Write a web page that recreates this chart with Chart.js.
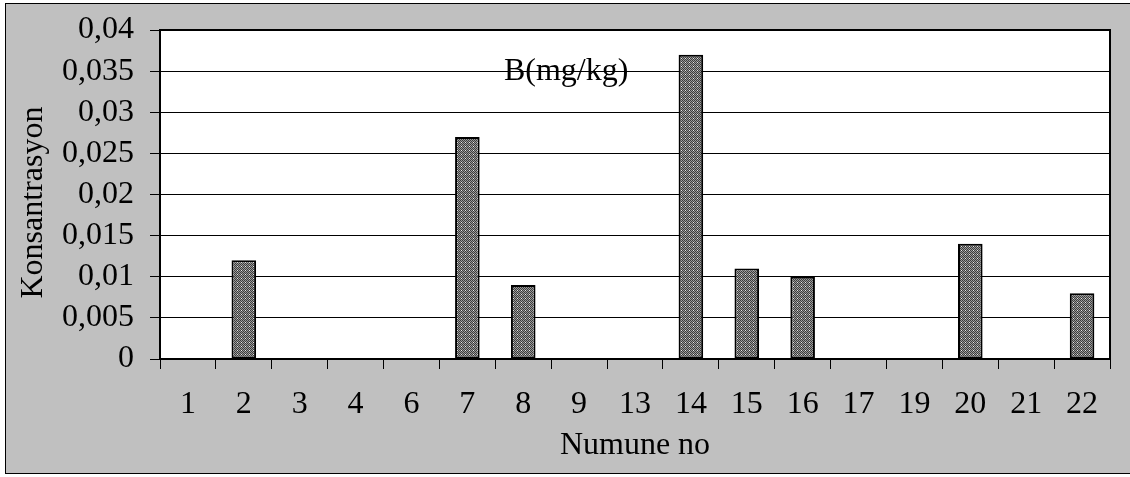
<!DOCTYPE html>
<html>
<head>
<meta charset="utf-8">
<script src="https://cdn.jsdelivr.net/npm/chart.js@4/dist/chart.umd.min.js"></script>
<style>
  html, body { margin: 0; padding: 0; background: #ffffff; }
  #wrap { width: 1130px; height: 477px; }
</style>
</head>
<body>
<div id="wrap"><canvas id="c" width="1130" height="477"></canvas></div>
<script>
// Sample numbers along the x axis
const sampleNos = ['1', '2', '3', '4', '6', '7', '8', '9', '13', '14', '15', '16', '17', '19', '20', '21', '22'];
// Boron concentration per sample (mg/kg)
const boron = [0, 0.012, 0, 0, 0, 0.027, 0.009, 0, 0, 0.037, 0.011, 0.010, 0, 0, 0.014, 0, 0.008];
// Y axis range and step
const yMin = 0, yMax = 0.04, yStep = 0.005;

const FONT = '"Liberation Serif", "Times New Roman", serif';

// Fine checkered fill used for the bars
function makeHatch() {
  const p = document.createElement('canvas');
  p.width = 4; p.height = 4;
  const g = p.getContext('2d');
  g.fillStyle = '#9a9a9a'; g.fillRect(0, 0, 4, 4);
  g.fillStyle = '#3c3c3c';
  g.fillRect(0, 0, 1, 1); g.fillRect(2, 0, 1, 1);
  g.fillRect(1, 1, 1, 1); g.fillRect(3, 1, 1, 1);
  g.fillRect(0, 2, 1, 1); g.fillRect(2, 2, 1, 1);
  g.fillRect(1, 3, 1, 1); g.fillRect(3, 3, 1, 1);
  g.fillStyle = '#e6e6e6';
  g.fillRect(1, 2, 1, 1);
  return g.createPattern(p, 'repeat');
}

const frame = {
  id: 'frame',
  beforeDraw(chart) {
    const { ctx, chartArea: a } = chart;
    ctx.save();
    ctx.fillStyle = '#ffffff';
    ctx.fillRect(0, 0, chart.width, chart.height);
    ctx.fillStyle = '#c0c0c0';
    ctx.fillRect(5, 3, chart.width, 471);
    ctx.strokeStyle = '#000000';
    ctx.lineWidth = 1;
    ctx.strokeRect(5.5, 3.5, chart.width, 470);
    ctx.fillStyle = '#ffffff';
    ctx.fillRect(a.left, a.top, a.right - a.left, a.bottom - a.top);
    // series caption inside the plot
    ctx.fillStyle = '#000000';
    ctx.font = '32px ' + FONT;
    ctx.textAlign = 'center';
    ctx.textBaseline = 'alphabetic';
    ctx.fillText('B(mg/kg)', a.left + (a.right - a.left) * 0.4275, a.top + 50);
    ctx.restore();
  },
  afterDatasetsDraw(chart) {
    const { ctx, chartArea: a } = chart;
    ctx.save();
    ctx.strokeStyle = '#000000';
    ctx.lineWidth = 2;
    ctx.strokeRect(a.left, a.top, a.right - a.left, a.bottom - a.top);
    ctx.restore();
  }
};

new Chart(document.getElementById('c'), {
  type: 'bar',
  data: {
    labels: sampleNos,
    datasets: [{
      label: 'B(mg/kg)',
      data: boron,
      backgroundColor: makeHatch(),
      borderColor: '#000000',
      borderWidth: 2,
      borderSkipped: false,
      barPercentage: 0.44,
      categoryPercentage: 1.0
    }]
  },
  options: {
    responsive: false,
    animation: false,
    devicePixelRatio: 1,
    layout: { padding: { left: 0, top: 30, right: 20, bottom: 0 } },
    plugins: { legend: { display: false }, tooltip: { enabled: false }, title: { display: false } },
    scales: {
      x: {
        offset: true,
        afterFit(scale) { scale.height = 118; scale.paddingLeft = 0; scale.paddingRight = 0; },
        grid: { drawOnChartArea: false, drawTicks: true, tickLength: 10, color: '#000000', offset: true },
        border: { display: false },
        ticks: { color: '#000000', font: { family: FONT, size: 32 }, padding: 16, maxRotation: 0, autoSkip: false },
        title: { display: true, text: 'Numune no', color: '#000000', font: { family: FONT, size: 32 }, padding: { top: 0, bottom: 12 } }
      },
      y: {
        min: yMin, max: yMax,
        afterFit(scale) { scale.width = 160; scale.paddingTop = 0; scale.paddingBottom = 0; },
        grid: { color: '#000000', lineWidth: 1, tickLength: 10, drawTicks: true },
        border: { display: false },
        ticks: {
          stepSize: yStep,
          autoSkip: false,
          color: '#000000',
          font: { family: FONT, size: 32 },
          padding: 16,
          callback: (v) => String(+Number(v).toFixed(3)).replace('.', ',')
        },
        title: { display: true, text: 'Konsantrasyon  ', color: '#000000', font: { family: FONT, size: 32 }, padding: { top: 14, bottom: 0 } }
      }
    }
  },
  plugins: [frame]
});
</script>
</body>
</html>
